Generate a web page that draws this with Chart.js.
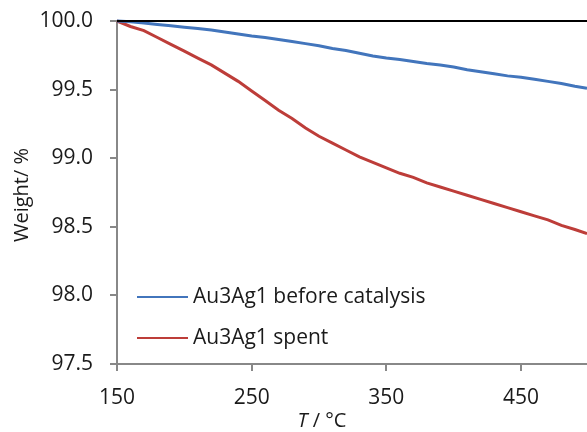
<!DOCTYPE html>
<html>
<head>
<meta charset="utf-8">
<script src="https://cdn.jsdelivr.net/npm/chart.js@4"></script>
<style>
  html, body { margin: 0; padding: 0; background: #fff; }
  #wrap { width: 587px; height: 432px; }
</style>
</head>
<body>
<div id="wrap"><canvas id="c" width="587" height="432"></canvas></div>
<script>
const temperature = [150,160,170,180,190,200,210,220,230,240,250,260,270,280,290,300,310,320,330,340,350,360,370,380,390,400,410,420,430,440,450,460,470,480,490,499];
const beforeCatalysis = [100.00,99.995,99.985,99.975,99.965,99.955,99.945,99.935,99.92,99.905,99.89,99.88,99.865,99.85,99.835,99.82,99.80,99.785,99.765,99.745,99.73,99.72,99.705,99.69,99.68,99.665,99.645,99.63,99.615,99.60,99.59,99.575,99.56,99.545,99.525,99.51];
const spent = [100.00,99.96,99.93,99.88,99.83,99.78,99.73,99.68,99.62,99.56,99.49,99.42,99.35,99.29,99.22,99.16,99.11,99.06,99.01,98.97,98.93,98.89,98.86,98.82,98.79,98.76,98.73,98.70,98.67,98.64,98.61,98.58,98.55,98.51,98.48,98.45];
const seriesLabels = ['Au3Ag1 before catalysis', 'Au3Ag1 spent'];
const xTicks = [150, 250, 350, 450];
const yTicks = [97.5, 98.0, 98.5, 99.0, 99.5, 100.0];

const FONT = '"Open Sans", sans-serif';
const BLUE = '#4275BC';
const RED = '#BD3D39';
const AXIS = '#888888';

const toXY = (arr) => arr.map((v, i) => ({ x: temperature[i], y: v }));

const extras = {
  id: 'extras',
  afterDraw(chart) {
    const ctx = chart.ctx;
    const ca = chart.chartArea;
    const ys = chart.scales.y;
    ctx.save();
    ctx.strokeStyle = '#000';
    ctx.lineWidth = 2;
    const y100 = ys.getPixelForValue(100);
    ctx.beginPath();
    ctx.moveTo(ca.left, y100);
    ctx.lineTo(ca.right, y100);
    ctx.stroke();
    ctx.restore();

    ctx.save();
    ctx.font = '21px ' + FONT;
    ctx.textBaseline = 'middle';
    ctx.textAlign = 'left';
    const lx = ca.left + 20, lw = 51;
    const rows = [297, 338];
    chart.data.datasets.forEach((ds, i) => {
      const yy = rows[i];
      ctx.strokeStyle = ds.borderColor;
      ctx.lineWidth = 2;
      ctx.beginPath();
      ctx.moveTo(lx, yy);
      ctx.lineTo(lx + lw, yy);
      ctx.stroke();
      ctx.fillStyle = '#1a1a1a';
      ctx.fillText(ds.label, lx + lw + 5, yy);
    });
    ctx.restore();

    ctx.save();
    ctx.fillStyle = '#1a1a1a';
    ctx.textBaseline = 'middle';
    const p1 = 'T', p2 = ' / °C';
    ctx.font = 'italic 20px ' + FONT;
    const w1 = ctx.measureText(p1).width;
    ctx.font = '20px ' + FONT;
    const w2 = ctx.measureText(p2).width;
    const cx = 322, cy = 421;
    let sx = cx - (w1 + w2) / 2;
    ctx.textAlign = 'left';
    ctx.font = 'italic 20px ' + FONT;
    ctx.fillText(p1, sx, cy);
    ctx.font = '20px ' + FONT;
    ctx.fillText(p2, sx + w1, cy);
    ctx.translate(22, 195);
    ctx.rotate(-Math.PI / 2);
    ctx.textAlign = 'center';
    ctx.fillText('Weight/ %', 0, 0);
    ctx.restore();
  }
};

new Chart(document.getElementById('c'), {
  type: 'line',
  data: {
    datasets: [
      { label: seriesLabels[0], data: toXY(beforeCatalysis), borderColor: BLUE, backgroundColor: BLUE, borderWidth: 3, pointRadius: 0, tension: 0 },
      { label: seriesLabels[1], data: toXY(spent), borderColor: RED, backgroundColor: RED, borderWidth: 3, pointRadius: 0, tension: 0 }
    ]
  },
  options: {
    responsive: false,
    animation: false,
    clip: false,
    layout: { padding: { left: 0, right: 0, top: 21, bottom: 0 } },
    plugins: { legend: { display: false }, tooltip: { enabled: false } },
    scales: {
      x: {
        type: 'linear',
        min: 150, max: 499,
        afterBuildTicks: (s) => { s.ticks = xTicks.map(v => ({ value: v })); },
        afterFit: (s) => { s.height = 68; s.paddingLeft = 0; s.paddingRight = 0; s.paddingTop = 0; s.paddingBottom = 0; },
        grid: { drawOnChartArea: false, drawTicks: true, tickLength: 7, color: AXIS, lineWidth: 2 },
        border: { display: true, color: AXIS, width: 2 },
        ticks: { color: '#1a1a1a', font: { family: FONT, size: 21 }, padding: 14, maxRotation: 0, autoSkip: false }
      },
      y: {
        min: 97.5, max: 100.0,
        afterBuildTicks: (s) => { s.ticks = yTicks.map(v => ({ value: v })); },
        afterFit: (s) => { s.width = 117; s.paddingTop = 0; s.paddingBottom = 0; s.paddingLeft = 0; s.paddingRight = 0; },
        grid: { drawOnChartArea: false, drawTicks: true, tickLength: 7, color: AXIS, lineWidth: 2 },
        border: { display: true, color: AXIS, width: 2 },
        ticks: { color: '#1a1a1a', font: { family: FONT, size: 21 }, padding: 17, callback: (v) => Number(v).toFixed(1) }
      }
    }
  },
  plugins: [extras]
});
</script>
</body>
</html>
